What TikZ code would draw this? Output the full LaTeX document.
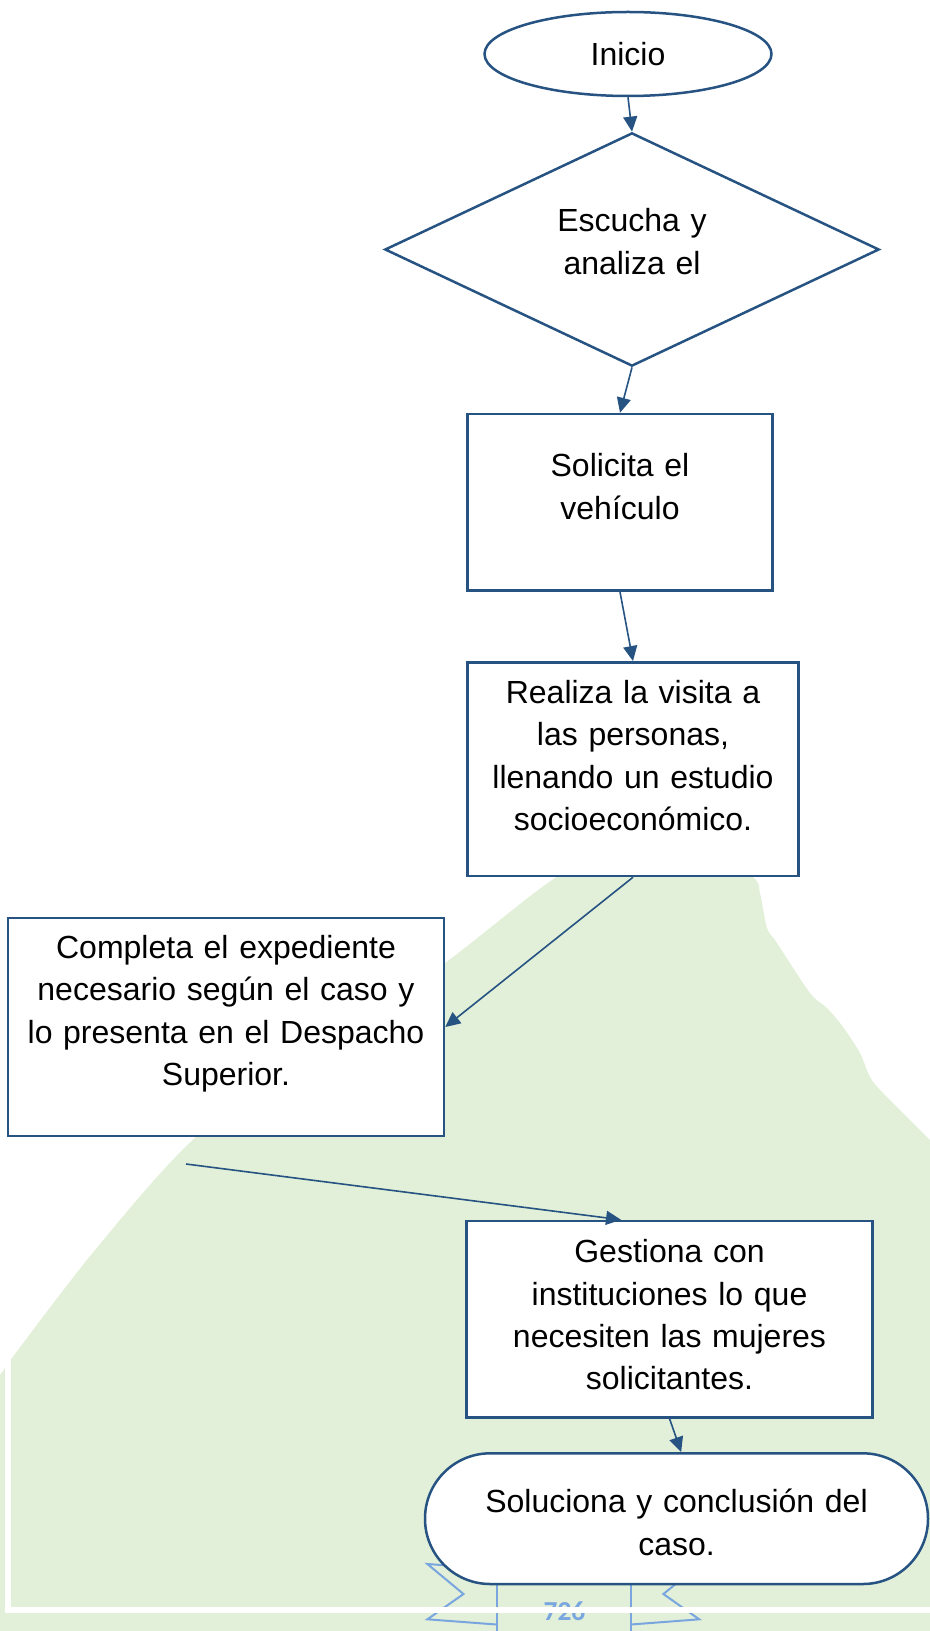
\documentclass[tikz,border=0pt]{standalone}
\usepackage{fontspec}
\setmainfont{Liberation Sans}
\newfontfamily\pagefont{Carlito}
\usetikzlibrary{shapes.geometric,arrows.meta}
\definecolor{flowblue}{HTML}{265382}
\definecolor{ribbonblue}{HTML}{7AA6DF}
\definecolor{palegreen}{HTML}{E2F0D9}
\tikzset{
  flowbox/.style={draw=flowblue,line width=1.25pt,fill=white,rectangle,
    inner xsep=4pt,inner ysep=0pt,align=center},
  flowarrow/.style={draw=flowblue,line width=0.8pt,
    -{Triangle[length=7.5pt,width=7pt]}},
  ribbonline/.style={draw=ribbonblue,line width=1pt}
}
\begin{document}
\begin{tikzpicture}[x=0.5pt,y=-0.5pt,every node/.style={font=\fontsize{16}{21.2}\selectfont}]
\useasboundingbox (0,0) rectangle (930,1631);
% background
\fill[palegreen] (0,1631) -- (0,1375) -- plot[smooth,tension=0.5] coordinates {(12,1358) (95,1250) (196,1137)
  (320,1050) (445,963) (552,880) (640,830) (700,835) (753,877) (760,893) (767,928) (777,943)
  (810,993) (827,1008) (843,1027) (860,1053) (870,1077) (883,1093) (930,1140)} -- (930,1631) -- cycle;
% page number
\draw[ribbonline] (496.7,1560) -- (496.7,1631);
\draw[ribbonline] (630.8,1560) -- (630.8,1631);
\draw[ribbonline] (496.7,1569) -- (427.4,1564) -- (463.5,1594) -- (427.4,1619.3) -- (496.7,1624.5);
\draw[ribbonline] (630.8,1569) -- (700,1564) -- (663.4,1594) -- (699.2,1619.3) -- (630.8,1624.5);
\node[anchor=base,text=ribbonblue,font=\pagefont\bfseries\fontsize{13.7}{16}\selectfont,inner sep=0pt] (pagina) at (564.5,1620) {726};
\draw[white,line width=3pt] (8,1330) -- (8,1609.7) -- (930,1609.7);
% flow
\node[draw=flowblue,line width=1.25pt,fill=white,ellipse,minimum width=143.5pt,minimum height=42pt,inner sep=0pt] (inicio) at (628,54) {Inicio};
\node[draw=flowblue,line width=1.25pt,fill=white,diamond,aspect=2,minimum width=247.15pt,minimum height=116.65pt,
  inner sep=0pt,text width=80pt,align=center,text height=12pt,text depth=29.8pt] (escucha) at (632,249.5) {Escucha y\\analiza el};
\node[flowbox,text width=144.35pt,text height=31.35pt,text depth=57pt] (solicita) at (620,502.35) {Solicita el\\vehículo};
\node[flowbox,text width=157.3pt,text height=20.5pt,text depth=86.35pt] (realiza) at (633,769.15)
  {Realiza la visita a\\las personas,\\llenando un estudio\\socioeconómico.};
\node[flowbox,text width=210pt,text height=20.15pt,text depth=88.85pt] (completa) at (226,1027)
  {Completa el expediente\\necesario según el caso y\\lo presenta en el Despacho\\Superior.};
\node[flowbox,text width=194.8pt,text height=20.85pt,text depth=77.3pt] (gestiona) at (669.5,1319.15)
  {Gestiona con\\instituciones lo que\\necesiten las mujeres\\solicitantes.};
\node[flowbox,rounded corners=32.6pt,text width=243.5pt,text height=29.7pt,text depth=35.65pt] (fin) at (676.5,1518.65)
  {Soluciona y conclusión del\\caso.};
\coordinate (suelto) at (186,1164);
\draw[flowarrow] (inicio.south) -- (escucha.north);
\draw[flowarrow] (escucha.south) -- (solicita.north);
\draw[flowarrow] (solicita.south) -- (realiza.north);
\draw[flowarrow] (realiza.south) -- (completa.east);
\draw[flowarrow] (suelto) -- (gestiona.116);
\draw[flowarrow] (gestiona.south) -- (fin.86);
\end{tikzpicture}
\end{document}
